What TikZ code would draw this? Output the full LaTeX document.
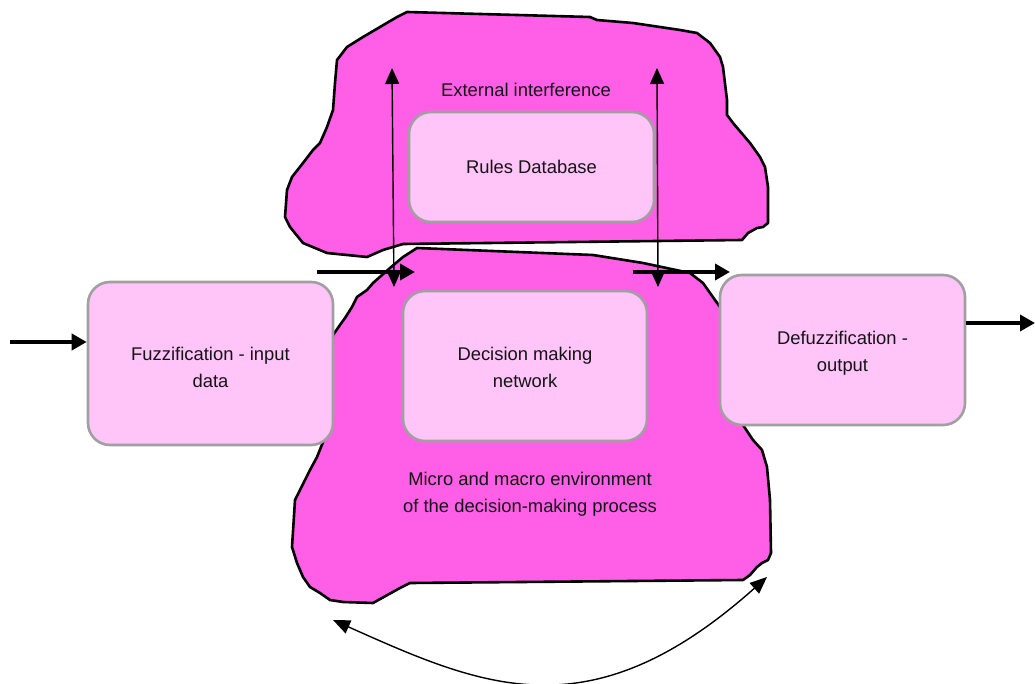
\documentclass[tikz,border=0pt]{standalone}
\usepackage{fontspec}
\setmainfont{Liberation Sans}
\usetikzlibrary{arrows.meta}
\definecolor{blobfill}{RGB}{255,94,230}
\definecolor{boxfill}{RGB}{255,196,248}
\definecolor{boxline}{RGB}{160,160,160}
\definecolor{txt}{RGB}{20,20,20}
\tikzset{
  blob/.style={fill=blobfill, draw=black, line width=2.6pt, line join=round},
  procbox/.style={rectangle, rounded corners=22pt, fill=boxfill, draw=boxline, line width=2.6pt,
    align=center, text=txt, font=\fontsize{18.4}{27}\selectfont, inner sep=0pt},
  lbl/.style={align=center, text=txt, font=\fontsize{18.4}{27}\selectfont, inner sep=0pt},
  thickarrow/.style={line width=3.8pt, -{Triangle[length=15pt,width=16pt]}},
  thinarrow/.style={line width=1.4pt, {Triangle[length=16pt,width=14pt]}-{Triangle[length=16pt,width=14pt]}},
  arcarrow/.style={line width=1.4pt, {Triangle[length=17pt,width=14pt]}-{Triangle[length=17pt,width=14pt]}}
}
\begin{document}
\begin{tikzpicture}[x=1pt,y=-1pt]
\useasboundingbox (0,0) rectangle (1035,684);

% lower blob: environment
\path[blob] (417,248) -- (593,255) -- (643,263) -- (690,273) -- (703,283) -- (715,300) -- (720,307)
  -- (730,340) -- (740,400) -- (743,425) -- (753,440) -- (762,450) -- (767,467) -- (770,500)
  -- (771,553) -- (768,560) -- (762,563) -- (757,567) -- (750,575) -- (743,580) -- (410,583)
  -- (400,588) -- (373,603) -- (343,602) -- (330,600) -- (320,593) -- (310,587) -- (303,577)
  -- (297,563) -- (292,547) -- (295,500) -- (310,470) -- (317,457) -- (325,437) -- (328,380)
  -- (333,335) -- (340,325) -- (345,318) -- (352,307) -- (357,297) -- (367,290) -- (373,283)
  -- (390,268) -- (403,257) -- cycle;

% top blob: external interference
\path[blob] (407,12) -- (590,17) -- (597,20) -- (633,23) -- (680,30) -- (697,33) -- (710,43)
  -- (720,57) -- (723,67) -- (727,100) -- (727,115) -- (733,123) -- (750,143) -- (760,157)
  -- (765,167) -- (768,187) -- (768,223) -- (763,227) -- (757,228) -- (748,233) -- (742,240)
  -- (403,244) -- (383,250) -- (367,257) -- (327,253) -- (303,243) -- (290,227) -- (285,217)
  -- (287,190) -- (292,177) -- (303,163) -- (313,150) -- (320,143) -- (327,127) -- (333,110)
  -- (335,83) -- (337,60) -- (347,47) -- (363,37) -- (380,27) -- (397,17) -- cycle;

% boxes
\node[procbox, minimum width=245pt, minimum height=163pt] (fuzz) at (210.5,363.5) {};
\node[procbox, minimum width=245pt, minimum height=150pt] (defuzz) at (842.5,350) {};
\node[procbox, minimum width=244pt, minimum height=150pt] (dmn) at (525,366) {};
\node[procbox, minimum width=245pt, minimum height=110pt] (rules) at (531.5,167) {};

% labels
\node[lbl] (fuzzt) at (210.5,367) {Fuzzification - input\\data};
\node[lbl] (defuzzt) at (842.5,353) {Defuzzification -\\output};
\node[lbl] (dmnt) at (525,367.5) {Decision making\\network};
\node[lbl] (rulest) at (531.5,167) {Rules Database};
\node[lbl] (ext) at (526,90) {External interference};
\node[lbl] (env) at (530,494) {Micro and macro environment\\of the decision-making process};

% coordinates for free ends
\coordinate (inS) at (10,342);
\coordinate (outE) at (1035,323);
\coordinate (m1S) at (317,272);
\coordinate (m1E) at (415,272);
\coordinate (m2S) at (633,272);
\coordinate (m2E) at (730,272);
\coordinate (v1T) at (392,68);
\coordinate (v1B) at (394,287);
\coordinate (v2T) at (657,68);
\coordinate (v2B) at (658,287);
\coordinate (arcL) at (333,620);
\coordinate (arcR) at (767,577);

% connectors
\draw[thickarrow] (inS) -- (inS -| fuzz.west);
\draw[thickarrow] (defuzz.east |- outE) -- (outE);
\draw[thickarrow] (m1S) -- (m1E);
\draw[thickarrow] (m2S) -- (m2E);
\draw[thinarrow] (v1B) -- (v1T);
\draw[thinarrow] (v2B) -- (v2T);
\draw[arcarrow] (arcL) .. controls (483,687) and (590,735) .. (arcR);
\end{tikzpicture}
\end{document}
